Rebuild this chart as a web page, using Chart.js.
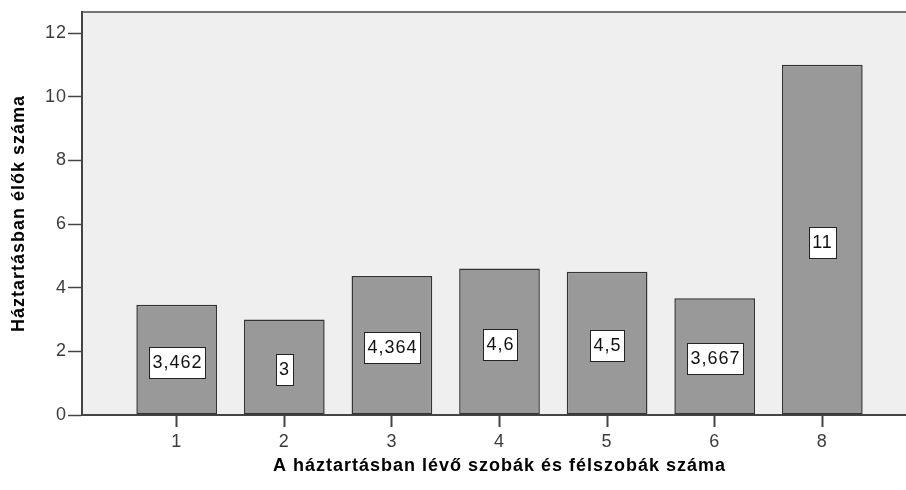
<!DOCTYPE html>
<html lang="hu">
<head>
  <meta charset="UTF-8">
  <title>Háztartásban élők száma</title>
  <script src="https://cdn.jsdelivr.net/npm/chart.js"></script>
  <style>
    body { margin: 0; background: white; }
    #wrap { width: 906px; height: 490px; overflow: hidden; }
  </style>
</head>
<body>
  <div id="wrap">
    <canvas id="chart" width="920" height="490"></canvas>
  </div>
  <script>
    // adatok
    const szobak = ['1', '2', '3', '4', '5', '6', '8'];
    const atlag = [3.462, 3, 4.364, 4.6, 4.5, 3.667, 11];
    const yTicks = [0, 2, 4, 6, 8, 10, 12];

    const xTitle = 'A háztartásban lévő szobák és félszobák száma';
    const yTitle = 'Háztartásban élők száma';

    const FONT = '"Liberation Sans", Arial, sans-serif';

    // háttér, keret, betűköz
    const frame = {
      id: 'frame',
      beforeDraw(chart) {
        const {ctx, chartArea: a} = chart;
        ctx.letterSpacing = '1px';
        ctx.save();
        ctx.fillStyle = '#efefef';
        ctx.fillRect(a.left, a.top, a.right - a.left, a.bottom - a.top);
        ctx.restore();
      },
      beforeDatasetsDraw(chart) {
        chart.ctx.letterSpacing = '1px';
      },
      afterDraw(chart) {
        const {ctx, chartArea: a} = chart;
        ctx.save();
        ctx.strokeStyle = '#4a4a4a';
        ctx.lineWidth = 1.5;
        ctx.beginPath();
        ctx.moveTo(a.left, a.top);
        ctx.lineTo(a.right, a.top);
        ctx.stroke();
        ctx.restore();
      }
    };

    // értékcímkék fehér dobozban
    const valueLabels = {
      id: 'valueLabels',
      afterDatasetsDraw(chart) {
        const ctx = chart.ctx;
        const meta = chart.getDatasetMeta(0);
        ctx.save();
        ctx.font = '18px ' + FONT;
        ctx.textAlign = 'center';
        ctx.textBaseline = 'middle';
        meta.data.forEach((bar, i) => {
          const txt = String(atlag[i]).replace('.', ',');
          const w = Math.round(ctx.measureText(txt).width + 6);
          const h = 31;
          const cx = Math.round(bar.x);
          const cy = Math.round((bar.y + bar.base) / 2 + 2);
          const x0 = Math.round(cx - w / 2) + 0.5;
          const y0 = Math.round(cy - h / 2) + 0.5;
          ctx.fillStyle = 'white';
          ctx.fillRect(x0, y0, w, h);
          ctx.strokeStyle = '#222';
          ctx.lineWidth = 1;
          ctx.strokeRect(x0, y0, w, h);
          ctx.fillStyle = '#111';
          ctx.fillText(txt, cx + 0.5, cy + 1);
        });
        ctx.restore();
      }
    };

    new Chart(document.getElementById('chart'), {
      type: 'bar',
      data: {
        datasets: [{
          data: atlag.map((v, i) => ({x: i, y: v})),
          backgroundColor: '#999999',
          borderColor: '#333333',
          borderWidth: 1.5,
          borderSkipped: false,
          barPercentage: 0.75,
          categoryPercentage: 1
        }]
      },
      options: {
        responsive: false,
        animation: false,
        layout: {padding: {left: 0, right: 3, top: 12, bottom: 0}},
        plugins: {legend: {display: false}, tooltip: {enabled: false}},
        scales: {
          x: {
            type: 'linear',
            offset: false,
            min: -0.88,
            max: 6.88,
            afterFit(s) { s.height = 75; },
            afterBuildTicks(s) { s.ticks = szobak.map((c, i) => ({value: i})); },
            ticks: {
              callback: v => szobak[v],
              font: {family: FONT, size: 18},
              color: '#3c3c3c',
              padding: 4,
              maxRotation: 0
            },
            grid: {offset: false, drawOnChartArea: false, drawTicks: true, tickLength: 12, tickColor: '#444', tickWidth: 2},
            border: {display: true, color: '#444', width: 2},
            title: {
              display: true,
              text: xTitle,
              color: '#000',
              font: {family: FONT, size: 18, weight: 'bold'},
              padding: {top: 0, bottom: 13}
            }
          },
          y: {
            min: 0,
            max: 12.66,
            afterFit(s) { s.width = 82; },
            afterBuildTicks(s) { s.ticks = yTicks.map(v => ({value: v})); },
            ticks: {
              font: {family: FONT, size: 18},
              color: '#3c3c3c',
              padding: 1
            },
            grid: {drawOnChartArea: false, drawTicks: true, tickLength: 14, tickColor: '#444', tickWidth: 1.5},
            border: {display: true, color: '#444', width: 2},
            title: {
              display: true,
              text: yTitle,
              color: '#000',
              font: {family: FONT, size: 18, weight: 'bold'},
              padding: {top: 8, bottom: 0}
            }
          }
        }
      },
      plugins: [frame, valueLabels]
    });
  </script>
</body>
</html>
